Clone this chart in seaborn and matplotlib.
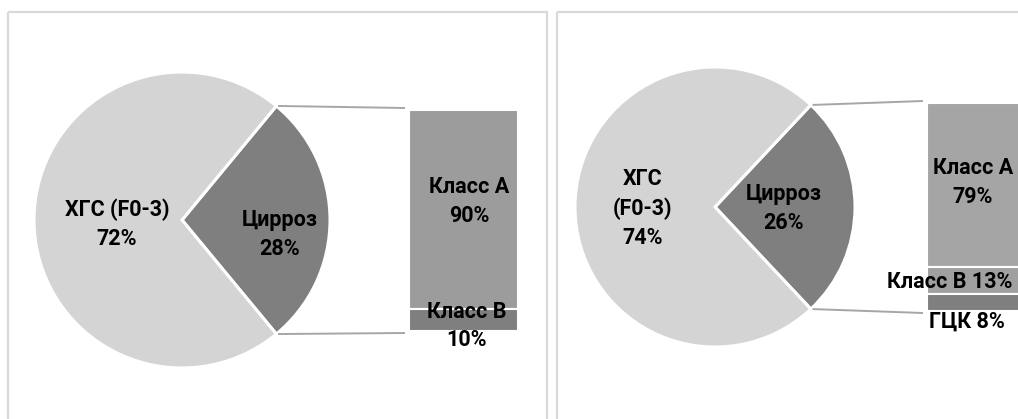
import numpy as np
import matplotlib
matplotlib.use("Agg")
import matplotlib.pyplot as plt
from matplotlib.patches import Rectangle
import seaborn as sns

# ---- data -------------------------------------------------------------
left_pie_names = ["Цирроз", "ХГС (F0-3)"]
left_pie_values = [28, 72]
left_bar_names = ["Класс А", "Класс В"]
left_bar_values = [90, 10]
left_bar_seps = ["\n", "\n"]

right_pie_names = ["Цирроз", "ХГС\n(F0-3)"]
right_pie_values = [26, 74]
right_bar_names = ["Класс А", "Класс В", "ГЦК"]
right_bar_values = [79, 13, 8]
right_bar_seps = ["\n", " ", " "]

# ---- style ------------------------------------------------------------
sns.set_theme(style="white")
plt.rcParams["font.family"] = ["Roboto", "DejaVu Sans"]

W, H = 1018, 419
LIGHT = "#d4d4d4"
DARK = "#7f7f7f"
LINE = "#a6a6a6"
FRAME = "#d9d9d9"
FS = 15.5
LS = 1.4

left_layout = dict(
    frame=(8.5, 12.5, 538.5, 430),
    center=(182, 220), radius=148, explode=0.012,
    dark_lab=(0.66, 0.10), light_lab=(-0.44, 0.03),
    bar_left=409, bar_top=110, bar_bottom=331, bar_width=109,
    bar_colors=["#9c9c9c", "#7f7f7f"],
    bar_lab_off=[(6, -8), (3, 6)],
)
right_layout = dict(
    frame=(557.5, 12.5, 500, 430),
    center=(715, 207), radius=140, explode=0.012,
    dark_lab=(0.49, 0.01), light_lab=(-0.52, 0.01),
    bar_left=927, bar_top=103, bar_bottom=311, bar_width=109,
    bar_colors=["#a5a5a5", "#a0a0a0", "#7f7f7f"],
    bar_lab_off=[(-8.5, -2.5), (-31.5, 1), (-14.5, 19)],
)


def draw_panel(ax, pie_names, pie_vals, bar_names, bar_vals, seps, lay):
    fx, fy, fw, fh = lay["frame"]
    ax.add_patch(Rectangle((fx, fy), fw, fh, facecolor="none",
                           edgecolor=FRAME, linewidth=1.6, zorder=1))

    cx, cy = lay["center"]
    r = lay["radius"]
    total = sum(pie_vals)
    half = pie_vals[0] / total * 180.0
    ax.pie(pie_vals, colors=[DARK, LIGHT], startangle=-half,
           center=(cx, cy), radius=r, explode=[lay["explode"], 0],
           wedgeprops=dict(edgecolor="white", linewidth=2.2), frame=True)

    # pie labels
    for name, val, off in zip(pie_names, pie_vals,
                              [lay["dark_lab"], lay["light_lab"]]):
        ax.text(cx + off[0] * r, cy + off[1] * r, f"{name}\n{val}%",
                ha="center", va="center", multialignment="center",
                fontsize=FS, fontweight="bold", color="black", zorder=5,
                linespacing=LS)

    # connector lines from the split slice edges to the bar
    ex = lay["explode"] * r
    tip_x = cx + ex + r * np.cos(np.radians(half))
    tip_dy = r * np.sin(np.radians(half))
    bx = lay["bar_left"] - 4
    ax.plot([tip_x, bx], [cy - tip_dy, lay["bar_top"] - 2],
            color=LINE, linewidth=1.4, solid_capstyle="butt", zorder=2)
    ax.plot([tip_x, bx], [cy + tip_dy, lay["bar_bottom"] + 2],
            color=LINE, linewidth=1.4, solid_capstyle="butt", zorder=2)

    # stacked breakdown bar
    span = lay["bar_bottom"] - lay["bar_top"]
    btot = sum(bar_vals)
    xc = lay["bar_left"] + lay["bar_width"] / 2
    y0 = lay["bar_top"]
    for name, val, sep, col, off in zip(bar_names, bar_vals, seps,
                                        lay["bar_colors"], lay["bar_lab_off"]):
        h = val / btot * span
        ax.bar(xc, h, width=lay["bar_width"], bottom=y0, color=col,
               edgecolor="white", linewidth=1.5, zorder=3)
        ax.text(xc + off[0], y0 + h / 2 + off[1], f"{name}{sep}{val}%",
                ha="center", va="center", multialignment="center",
                fontsize=FS, fontweight="bold", color="black", zorder=5,
                linespacing=LS)
        y0 += h


fig = plt.figure(figsize=(W / 100, H / 100), dpi=100)
ax = fig.add_axes([0, 0, 1, 1])

draw_panel(ax, left_pie_names, left_pie_values, left_bar_names,
           left_bar_values, left_bar_seps, left_layout)
draw_panel(ax, right_pie_names, right_pie_values, right_bar_names,
           right_bar_values, right_bar_seps, right_layout)

ax.set_xlim(0, W)
ax.set_ylim(H, 0)
ax.set_aspect("auto")
ax.axis("off")
sns.despine(ax=ax, left=True, bottom=True)

fig.savefig("out.png", dpi=100, facecolor="white")
